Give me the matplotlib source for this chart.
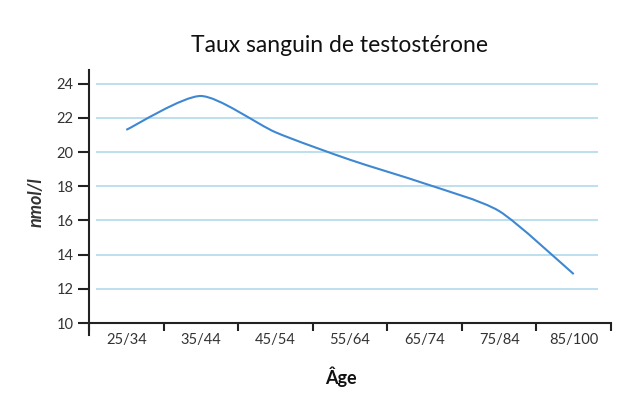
import matplotlib
matplotlib.use("Agg")
import matplotlib.pyplot as plt
from matplotlib.path import Path
from matplotlib.patches import PathPatch
import numpy as np

categories = ["25/34", "35/44", "45/54", "55/64", "65/74", "75/84", "85/100"]
values = [21.3, 23.28, 21.16, 19.55, 18.16, 16.55, 12.86]
y_ticks = [10, 12, 14, 16, 18, 20, 22, 24]


def cardinal_path(xs, ys, tension=0.3):
    # cardinal spline through the points, as bezier segments
    pts = np.column_stack([xs, ys]).astype(float)
    k = (1 - tension) / 6
    ext = np.vstack([pts[:1], pts, pts[-1:]])
    verts = [tuple(pts[0])]
    codes = [Path.MOVETO]
    for i in range(len(pts) - 1):
        p0, p1, p2, p3 = ext[i], ext[i + 1], ext[i + 2], ext[i + 3]
        c1 = p1 + k * (p2 - p0)
        c2 = p2 - k * (p3 - p1)
        verts += [tuple(c1), tuple(c2), tuple(p2)]
        codes += [Path.CURVE4] * 3
    return Path(verts, codes)


plt.rcParams['font.family'] = ['Lato', 'DejaVu Sans']

fig = plt.figure(figsize=(6.31, 3.99), dpi=100)
ax = fig.add_axes([89 / 631, 1 - 335 / 399, (611 - 89) / 631, (335 - 70) / 399])

x = np.arange(len(categories))
for yt in y_ticks[1:]:
    ax.hlines(yt, -0.41, 6.33, color="#b7dced", linewidth=1.3, zorder=1)

ax.add_patch(PathPatch(cardinal_path(x, values), facecolor="none",
                       edgecolor="#3e88d2", linewidth=1.5, zorder=3))

ax.set_xlim(-0.5, len(categories) - 0.5)
ax.set_ylim(9.3, 24.8)
ax.set_yticks(y_ticks)
ax.set_xticks(x)
ax.set_xticklabels(categories)
ax.set_xticks(np.arange(len(categories) + 1) - 0.5, minor=True)
ax.tick_params(axis="x", which="major", length=0, pad=7)
ax.tick_params(axis="x", which="minor", length=6, width=1.5, color="#222222")
ax.tick_params(axis="y", length=8, width=1.5, color="#222222", pad=3)
ax.tick_params(labelsize=10.5, labelcolor="#333333")

for s in ["top", "right"]:
    ax.spines[s].set_visible(False)
ax.spines["bottom"].set_position(("data", 10))
for s in ["left", "bottom"]:
    ax.spines[s].set_linewidth(1.5)
    ax.spines[s].set_color("#222222")

ax.set_ylabel("nmol/l", fontsize=13, fontweight="bold", fontstyle="italic",
              color="#333333", labelpad=9)
fig.text(341 / 631, 1 - 377 / 399, "Âge", fontsize=13, fontweight="bold",
         color="#111111", ha="center", va="center")
fig.text(339 / 631, 1 - 46 / 399, "Taux sanguin de testostérone", fontsize=16.5,
         color="#111111", ha="center", va="center")

fig.savefig("out.png", dpi=100)
